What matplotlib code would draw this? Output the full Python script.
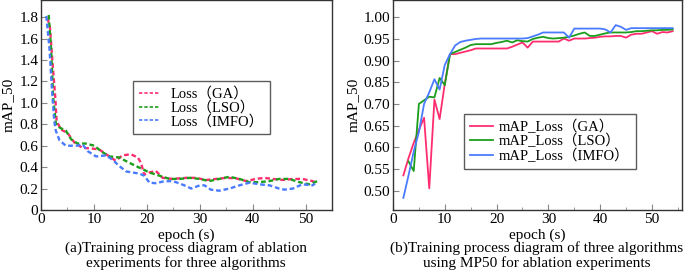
import matplotlib
matplotlib.use("Agg")
import matplotlib.pyplot as plt
import numpy as np

plt.rcParams["font.family"] = ["Liberation Serif", "Noto Sans CJK SC"]

# ---- left panel: loss curves ----
ga_ep = [1.25, 1.7, 2.2, 2.7, 2.95, 3.8, 5.0, 6.3, 7.8, 9.4, 11, 12.3, 14.1, 15.4, 17,
         18.3, 18.9, 19.5, 20.5, 21.7, 23, 24.8, 27.4, 29.3, 31.2, 33.1, 35, 36.9,
         38.8, 40.6, 42.2, 43.8, 45.7, 47.6, 49.4, 51.3, 51.8]
ga_loss = [1.79, 1.70, 1.36, 1.05, 0.83, 0.75, 0.72, 0.63, 0.58, 0.575, 0.565, 0.52,
           0.46, 0.51, 0.52, 0.49, 0.44, 0.33, 0.35, 0.365, 0.30, 0.29, 0.30, 0.30,
           0.28, 0.29, 0.30, 0.295, 0.27, 0.29, 0.30, 0.29, 0.28, 0.29, 0.29, 0.27, 0.26]

lso_ep = [1.45, 1.9, 2.3, 2.8, 3.5, 4.7, 5.7, 6.9, 8.5, 10.1, 11.3, 12.9, 14.8, 16.7,
          18.6, 20.5, 22.4, 24.3, 26.2, 28.1, 30, 31.8, 33.7, 35.6, 37.5, 39.4, 41.3,
          43.2, 45.0, 46.9, 48.8, 50.7, 52.3]
lso_loss = [1.82, 1.51, 1.05, 0.81, 0.77, 0.74, 0.66, 0.62, 0.62, 0.60, 0.55, 0.50,
            0.49, 0.44, 0.395, 0.35, 0.32, 0.29, 0.29, 0.30, 0.29, 0.27, 0.29, 0.31,
            0.29, 0.26, 0.26, 0.27, 0.29, 0.29, 0.26, 0.24, 0.27]

imfo_ep = [1.0, 1.6, 2.1, 2.5, 2.8, 3.5, 4.7, 6.6, 7.9, 8.8, 10.4, 12.3, 13.5, 14.8,
           16.1, 17.3, 18.6, 19.5, 20.5, 21.7, 23, 24.3, 25.5, 27.1, 28.4, 30, 30.9,
           32.1, 33.7, 35.6, 37.5, 39.4, 41.3, 43.2, 45, 46, 47.6, 49.4, 51.3, 51.8]
imfo_loss = [1.81, 1.51, 1.11, 0.83, 0.74, 0.65, 0.60, 0.60, 0.61, 0.55, 0.50, 0.51,
             0.47, 0.41, 0.36, 0.35, 0.34, 0.32, 0.255, 0.25, 0.265, 0.27, 0.26, 0.23,
             0.20, 0.23, 0.23, 0.19, 0.18, 0.20, 0.23, 0.255, 0.24, 0.23, 0.20, 0.19,
             0.20, 0.24, 0.23, 0.245]

# ---- right panel: mAP_50 curves ----
ga_map_ep = list(range(2, 55))
ga_map = [0.535, 0.575, 0.61, 0.64, 0.668, 0.505, 0.73, 0.665, 0.84, 0.915, 0.915,
          0.918, 0.921, 0.924, 0.928, 0.928, 0.928, 0.928, 0.928, 0.928, 0.928, 0.932,
          0.937, 0.942, 0.930, 0.944, 0.944, 0.944, 0.944, 0.944, 0.944, 0.951, 0.946,
          0.951, 0.951, 0.951, 0.952, 0.953, 0.955, 0.956, 0.956, 0.957, 0.957, 0.953,
          0.960, 0.962, 0.962, 0.965, 0.968, 0.962, 0.966, 0.965, 0.968]

lso_map_ep = list(range(3, 55))
lso_map = [0.567, 0.545, 0.70, 0.725, 0.75, 0.745, 0.86, 0.83, 0.915, 0.92, 0.925,
           0.93, 0.936, 0.938, 0.938, 0.938, 0.938, 0.941, 0.943, 0.946, 0.942, 0.947,
           0.945, 0.944, 0.950, 0.953, 0.955, 0.952, 0.951, 0.952, 0.953, 0.955, 0.958,
           0.962, 0.965, 0.957, 0.957, 0.96, 0.963, 0.965, 0.965, 0.965, 0.965, 0.966,
           0.968, 0.968, 0.969, 0.970, 0.970, 0.971, 0.971, 0.972]

imfo_map_ep = list(range(2, 55))
imfo_map = [0.483, 0.535, 0.59, 0.635, 0.70, 0.78, 0.857, 0.80, 0.89, 0.915, 0.935,
            0.943, 0.946, 0.948, 0.95, 0.951, 0.951, 0.951, 0.951, 0.951, 0.951, 0.951,
            0.951, 0.951, 0.952, 0.956, 0.96, 0.965, 0.965, 0.965, 0.965, 0.965, 0.953,
            0.974, 0.974, 0.974, 0.974, 0.974, 0.974, 0.972, 0.965, 0.982, 0.978, 0.971,
            0.975, 0.975, 0.975, 0.975, 0.975, 0.975, 0.975, 0.975, 0.975]

loss_labels = ["Loss（GA）", "Loss（LSO）", "Loss（IMFO）"]
map_labels = ["mAP_Loss（GA）", "mAP_Loss（LSO）", "mAP_Loss（IMFO）"]
map_ticks = [0.50, 0.55, 0.60, 0.65, 0.70, 0.85, 0.90, 0.95, 1.00]

c_ga, c_lso, c_imfo = "#ff2d6f", "#1c9e1c", "#4a7bff"

W, H = 685, 271
fig = plt.figure(figsize=(W / 100, H / 100), dpi=100)


def px_axes(x0, y0, x1, y1):
    return fig.add_axes([x0 / W, 1 - y1 / H, (x1 - x0) / W, (y1 - y0) / H])


def style(ax):
    for s in ax.spines.values():
        s.set_color("#333333")
        s.set_linewidth(1.0)
    ax.tick_params(direction="in", length=4, color="#888888", labelsize=11,
                   top=False, right=False, pad=2)
    ax.tick_params(which="minor", direction="in", length=2.5, color="#888888")


# left
ax1 = px_axes(41, 0, 332, 210)
dash = (2, 1.2)
ax1.plot(ga_ep, ga_loss, color=c_ga, lw=1.7, dashes=dash, label=loss_labels[0])
ax1.plot(lso_ep, lso_loss, color=c_lso, lw=1.7, dashes=dash, label=loss_labels[1])
ax1.plot(imfo_ep, imfo_loss, color=c_imfo, lw=1.7, dashes=dash, label=loss_labels[2])
ax1.set_xlim(0, 55)
ax1.set_ylim(0, 1.96)
ax1.set_xticks(range(0, 51, 10))
ax1.set_xticks(range(0, 56, 5), minor=True)
ax1.set_yticks(np.arange(0, 1.81, 0.2))
ax1.set_yticklabels(["0"] + ["%.1f" % v for v in np.arange(0.2, 1.81, 0.2)])
style(ax1)
ax1.set_xlabel("epoch (s)", fontsize=11, labelpad=2)
ax1.set_ylabel("mAP_50", fontsize=11, labelpad=3)
leg1 = ax1.legend(loc="upper left", bbox_to_anchor=(133 / W, 1 - 81 / H),
                  bbox_transform=fig.transFigure, fontsize=10.5, frameon=True,
                  fancybox=False, edgecolor="#333333", handlelength=1.4,
                  labelspacing=0.0, borderpad=0.4, handletextpad=0.8,
                  borderaxespad=0)
for ln in leg1.get_lines():
    ln.set_linewidth(1.2)


# right, with broken value scale (0.70 -> 0.85 squeezed into one step)
def fwd(v):
    v = np.asarray(v, dtype=float)
    return np.where(v <= 0.70, v, np.where(v <= 0.85, 0.70 + (v - 0.70) / 3, v - 0.10))


def inv(p):
    p = np.asarray(p, dtype=float)
    return np.where(p <= 0.70, p, np.where(p <= 0.75, 0.70 + (p - 0.70) * 3, p + 0.10))


ax2 = px_axes(393, 0, 682, 210)
ax2.set_yscale("function", functions=(fwd, inv))
ax2.plot(ga_map_ep, ga_map, color=c_ga, lw=1.3, label=map_labels[0])
ax2.plot(lso_map_ep, lso_map, color=c_lso, lw=1.3, label=map_labels[1])
ax2.plot(imfo_map_ep, imfo_map, color=c_imfo, lw=1.3, label=map_labels[2])
ax2.set_xlim(0, 55.8)
ax2.set_ylim(0.455, 1.04)
ax2.set_xticks(range(0, 51, 10))
ax2.set_xticks(range(0, 56, 5), minor=True)
ax2.set_yticks(map_ticks)
ax2.set_yticklabels(["%.2f" % v for v in map_ticks])
ax2.yaxis.set_minor_locator(matplotlib.ticker.NullLocator())
style(ax2)
ax2.set_xlabel("epoch (s)", fontsize=11, labelpad=2)
ax2.set_ylabel("mAP_50", fontsize=11, labelpad=3)
ax2.legend(loc="upper left", bbox_to_anchor=(464 / W, 1 - 114 / H),
           bbox_transform=fig.transFigure, fontsize=10.5, frameon=True,
           fancybox=False, edgecolor="#333333", handlelength=1.6,
           labelspacing=0.0, borderpad=0.4, handletextpad=0.4, borderaxespad=0)

fig.text(186 / W, 1 - 248 / H, "(a)Training process diagram of ablation",
         ha="center", va="center", fontsize=11)
fig.text(186 / W, 1 - 263 / H, "experiments for three algorithms",
         ha="center", va="center", fontsize=11)
fig.text(537 / W, 1 - 248 / H, "(b)Training process diagram of three algorithms",
         ha="center", va="center", fontsize=11)
fig.text(537 / W, 1 - 263 / H, "using MP50 for ablation experiments",
         ha="center", va="center", fontsize=11)

fig.savefig("out.png", dpi=100)
